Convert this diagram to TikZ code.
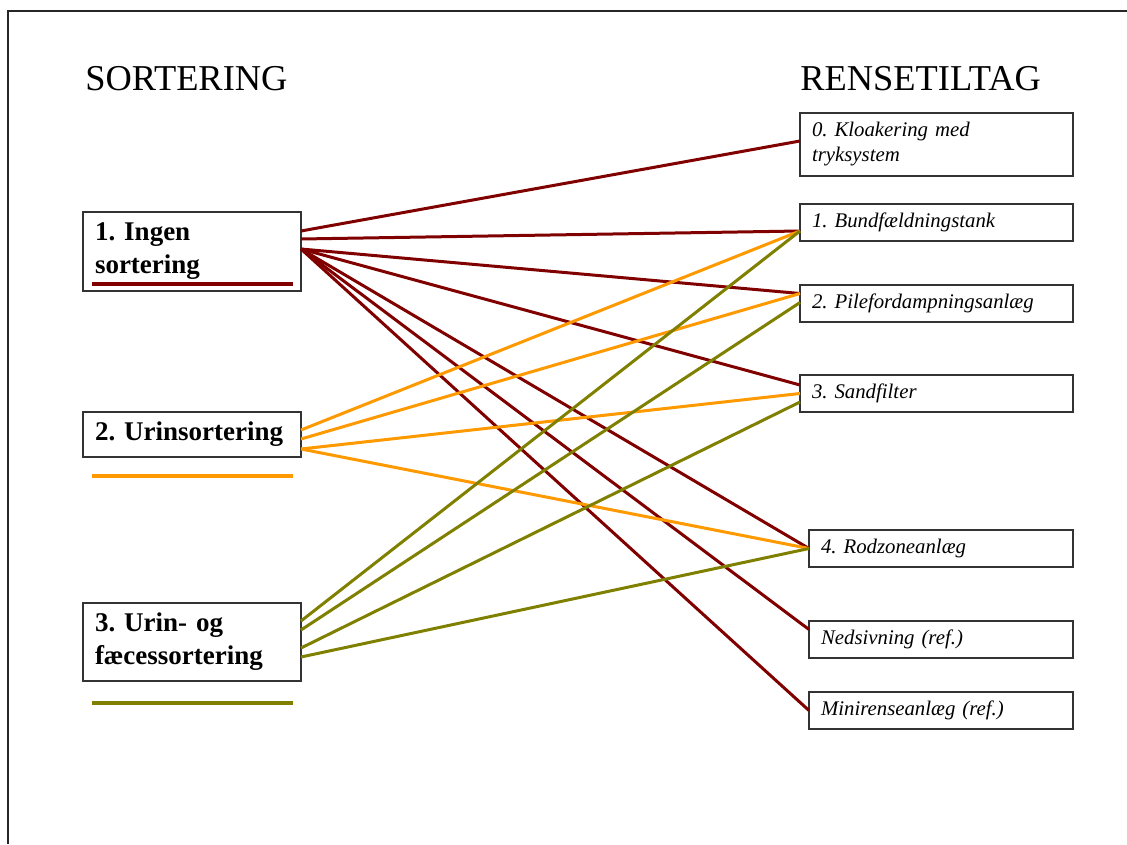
\documentclass[tikz,border=0pt]{standalone}
\usepackage{fontspec}
\setmainfont{Liberation Serif}
\usetikzlibrary{positioning}
\frenchspacing
\definecolor{ingenred}{RGB}{128,0,0}
\definecolor{urinorange}{RGB}{255,153,0}
\definecolor{faecesolive}{RGB}{128,128,0}
\tikzset{
    titel/.style ={
        font=\fontsize{18.2}{21}\selectfont,
        inner sep=0pt
    },
    sort/.style ={
        shape=rectangle,
        draw=black!80,
        line width=0.8pt,
        minimum width=109pt,
        text width=97pt,
        inner xsep=6pt,
        inner ysep=2pt,
        outer sep=0pt,
        align=left,
        font=\fontsize{13.5}{16.5}\selectfont\bfseries
    },
    rens/.style ={
        shape=rectangle,
        draw=black!80,
        line width=0.8pt,
        minimum width=136.5pt,
        minimum height=18.5pt,
        text width=124.5pt,
        inner xsep=6pt,
        inner ysep=2pt,
        outer sep=0pt,
        align=left,
        font=\fontsize{10.4}{12.5}\selectfont\itshape
    },
    smal/.style ={
        minimum width=132pt,
        text width=120pt
    },
    ingen/.style ={draw=ingenred, line width=1.5pt},
    urin/.style ={draw=urinorange, line width=1.5pt},
    faeces/.style ={draw=faecesolive, line width=1.5pt}
}

\begin{document}
\begin{tikzpicture}[x=0.5pt,y=-0.5pt]
    \useasboundingbox (0,0) rectangle (1127,844);
    \draw[line width=1pt,black!85] (8,844) -- (8,11) -- (1127,11);

    \node[titel,anchor=base west] (sortering) at (85,91) {SORTERING};
    \node[titel,anchor=base west] (rensetiltag) at (800,91) {RENSETILTAG};

    % sortering
    \node[sort,minimum height=39.5pt,anchor=north west] (A) at (83,212) {1. Ingen\\sortering};
    \node[sort,minimum height=22.5pt,below=60.5pt of A] (B) {2. Urinsortering};
    \node[sort,minimum height=39pt,below=73pt of B] (C) {3. Urin- og\\fæcessortering};
    \draw[ingen,line width=1.6pt] (92,284) -- (293,284);
    \draw[urin,line width=1.6pt] (92,476) -- (293,476);
    \draw[faeces,line width=1.6pt] (92,703) -- (293,703);

    % rensetiltag
    \node[rens,minimum height=31.5pt,anchor=north west] (R0) at (800,113) {0. Kloakering med\\tryksystem};
    \node[rens,below=14pt of R0] (R1) {1. Bundfældningstank};
    \node[rens,below=22pt of R1] (R2) {2. Pilefordampningsanlæg};
    \node[rens,below=26.5pt of R2] (R3) {3. Sandfilter};
    \node[rens,smal,below=59pt of R3,xshift=2.25pt] (R4) {4. Rodzoneanlæg};
    \node[rens,smal,below=27pt of R4] (R5) {Nedsivning (ref.)};
    \node[rens,smal,below=17pt of R5] (R6) {Minirenseanlæg (ref.)};

    \draw[ingen] ([yshift=10.25pt]A.east) -- ([yshift=1.75pt]R0.west);
    \draw[ingen] ([yshift=6.25pt]A.east) -- ([yshift=-4.25pt]R1.west);
    \draw[ingen] ([yshift=1.25pt]A.east) -- ([yshift=5pt]R2.west);
    \draw[ingen] ([yshift=1.25pt]A.east) -- ([yshift=4.25pt]R3.west);
    \draw[ingen] ([yshift=1.25pt]A.east) -- (R4.west);
    \draw[ingen] ([yshift=1.25pt]A.east) -- ([yshift=5pt]R5.west);
    \draw[ingen] ([yshift=1.25pt]A.east) -- (R6.west);

    \draw[urin] ([yshift=2.25pt]B.east) -- ([yshift=-4.25pt]R1.west);
    \draw[urin] ([yshift=-2.25pt]B.east) -- ([yshift=5pt]R2.west);
    \draw[urin] ([yshift=-7.25pt]B.east) -- (R3.west);
    \draw[urin] ([yshift=-7.25pt]B.east) -- (R4.west);

    \draw[faeces] ([yshift=10.5pt]C.east) -- ([yshift=-4.25pt]R1.west);
    \draw[faeces] ([yshift=6pt]C.east) -- ([yshift=0.5pt]R2.west);
    \draw[faeces] ([yshift=-3pt]C.east) -- ([yshift=-4.25pt]R3.west);
    \draw[faeces] ([yshift=-7.5pt]C.east) -- (R4.west);
\end{tikzpicture}
\end{document}
